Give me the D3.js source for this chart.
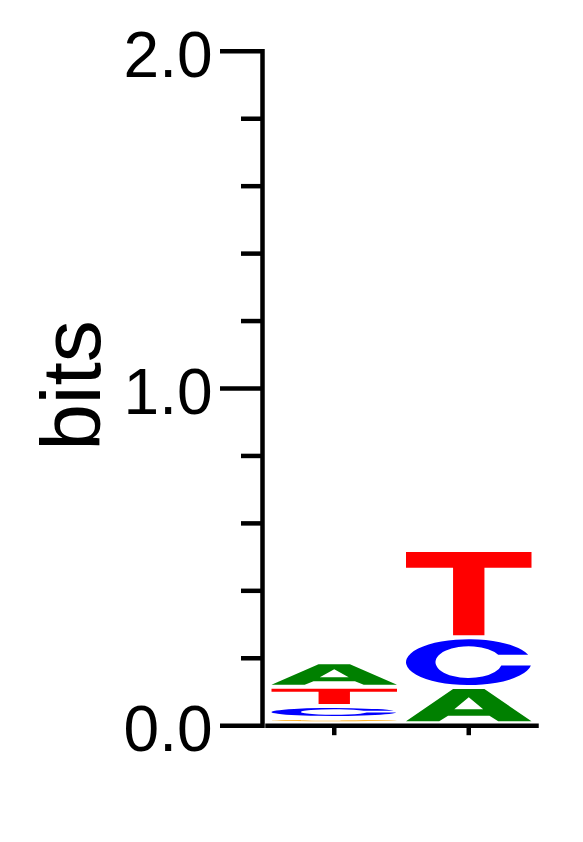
<!DOCTYPE html>
<html>
<head>
<meta charset="utf-8">
<script src="https://cdn.jsdelivr.net/npm/d3@7"></script>
<style>
  html, body { margin: 0; padding: 0; background: #fff; }
  svg { display: block; }
</style>
</head>
<body>
<svg id="chart" width="583" height="842"></svg>
<script>
// ---- data ----
const positions = ["1", "2"];
const pos1Letters = ["G", "C", "T", "A"];
const pos1Bits = [0.0154, 0.0356, 0.057, 0.073];
const pos2Letters = ["A", "C", "T"];
const pos2Bits = [0.107, 0.148, 0.259];
const majorTicks = [0, 1, 2];
const minorTicks = [0.2, 0.4, 0.6, 0.8, 1.2, 1.4, 1.6, 1.8];
const yLabel = "bits";

const colors = { A: "#008000", C: "#0000ff", G: "#ffa500", T: "#ff0000" };

// ---- glyph paths in unit square ----
function ex(cx, rx, cy, ry, y) {
  const t = (y - cy) / ry;
  return cx + rx * Math.sqrt(Math.max(0, 1 - t * t));
}
const oCx = 0.5, oRx = 0.5, oCy = 0.5, oRy = 0.5;
const iCx = 0.5, iRx = 0.265, iCy = 0.5, iRy = 0.345;
function cPath(yt, yb) {
  return `M${ex(oCx,oRx,oCy,oRy,yt)},${yt} A${oRx},${oRy} 0 1 0 ${ex(oCx,oRx,oCy,oRy,yb)},${yb}` +
         ` L${ex(iCx,iRx,iCy,iRy,yb)},${yb} A${iRx},${iRy} 0 1 1 ${ex(iCx,iRx,iCy,iRy,yt)},${yt} Z`;
}
function gPath() {
  const yt = 0.32;
  return `M${ex(oCx,oRx,oCy,oRy,yt)},${yt} A${oRx},${oRy} 0 1 0 1,0.5 L0.55,0.5 L0.55,0.63` +
         ` L${ex(iCx,iRx,iCy,iRy,0.63)},0.63 A${iRx},${iRy} 0 1 1 ${ex(iCx,iRx,iCy,iRy,yt)},${yt} Z`;
}
const glyphs = {
  A: "M0,1 L0.375,0 L0.625,0 L1,1 L0.735,1 L0.665,0.83 L0.335,0.83 L0.265,1 Z M0.385,0.63 L0.5,0.25 L0.615,0.63 Z",
  T: "M0,0 H1 V0.19 H0.625 V1 H0.375 V0.19 H0 Z",
  C: cPath(0.34, 0.57),
  G: gPath()
};

// ---- scales ----
const svg = d3.select("#chart");
svg.append("rect").attr("width", 583).attr("height", 842).attr("fill", "#fff");

const y = d3.scaleLinear().domain([0, 2]).range([725.2, 50.8]);
const x = d3.scaleBand().domain(positions).range([267, 536]).padding(0);

const inset = 4.5;
const gap = 4;

const stacks = [
  { pos: "1", letters: pos1Letters, bits: pos1Bits },
  { pos: "2", letters: pos2Letters, bits: pos2Bits }
];

const gLetters = svg.append("g");
stacks.forEach(s => {
  let cum = 0;
  s.letters.forEach((L, i) => {
    const h = s.bits[i];
    const top = y(cum + h);
    const bottom = y(cum) - gap;
    cum += h;
    const gh = bottom - top;
    if (gh <= 0) return;
    const x0 = x(s.pos) + inset;
    const w = x.bandwidth() - 2 * inset;
    gLetters.append("path")
      .attr("d", glyphs[L])
      .attr("fill", colors[L])
      .attr("fill-rule", "evenodd")
      .attr("transform", `translate(${x0},${top}) scale(${w},${gh})`);
  });
});

// ---- axes ----
const font = "'Liberation Sans', Arial, Helvetica, sans-serif";

const yMajor = d3.axisLeft(y).tickValues(majorTicks).tickSize(42).tickSizeOuter(0)
  .tickPadding(7.5).tickFormat(d3.format(".1f"));
const gy = svg.append("g").attr("transform", "translate(262,0)").call(yMajor);
gy.select(".domain").attr("stroke-width", 4.5).attr("stroke-linecap", "square");
gy.selectAll(".tick line").attr("stroke-width", 4.5);
gy.selectAll(".tick text").attr("font-family", font).attr("font-size", 64)
  .attr("fill", "#000").attr("dy", "0.40em");

const yMinor = d3.axisLeft(y).tickValues(minorTicks).tickSize(21).tickSizeOuter(0).tickFormat("");
const gy2 = svg.append("g").attr("transform", "translate(262,0)").call(yMinor);
gy2.select(".domain").remove();
gy2.selectAll(".tick line").attr("stroke-width", 4.5);

const xAxis = d3.axisBottom(x).tickSize(10).tickSizeOuter(0).tickFormat("");
const gx = svg.append("g").attr("transform", `translate(0,${y(0)})`).call(xAxis);
gx.select(".domain").attr("stroke-width", 4.5).attr("stroke-linecap", "square");
gx.selectAll(".tick line").attr("stroke-width", 4.5);

// ---- y label ----
svg.append("text")
  .attr("transform", "translate(100,385.5) rotate(-90)")
  .attr("text-anchor", "middle")
  .attr("font-family", font)
  .attr("font-size", 84)
  .attr("fill", "#000")
  .text(yLabel);
</script>
</body>
</html>
